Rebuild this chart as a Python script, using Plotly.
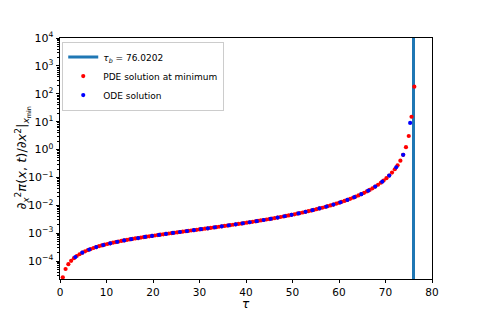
import plotly.graph_objects as go

tau_b = 76.0202

pde_tau = [0.6, 1.2, 1.8, 2.4, 3.0, 3.6, 4.2, 4.8, 5.4, 6.0, 6.6, 7.2, 7.8, 8.4, 9.0, 9.6,
           10.2, 10.8, 11.4, 12.0, 12.6, 13.2, 13.8, 14.4, 15.0, 15.6, 16.2, 16.8, 17.4, 18.0,
           18.6, 19.2, 19.8, 20.4, 21.0, 21.6, 22.2, 22.8, 23.4, 24.0, 24.6, 25.2, 25.8, 26.4,
           27.0, 27.6, 28.2, 28.8, 29.4, 30.0, 30.6, 31.2, 31.8, 32.4, 33.0, 33.6, 34.2, 34.8,
           35.4, 36.0, 36.6, 37.2, 37.8, 38.4, 39.0, 39.6, 40.2, 40.8, 41.4, 42.0, 42.6, 43.2,
           43.8, 44.4, 45.0, 45.6, 46.2, 46.8, 47.4, 48.0, 48.6, 49.2, 49.8, 50.4, 51.0, 51.6,
           52.2, 52.8, 53.4, 54.0, 54.6, 55.2, 55.8, 56.4, 57.0, 57.6, 58.2, 58.8, 59.4, 60.0,
           60.6, 61.2, 61.8, 62.4, 63.0, 63.6, 64.2, 64.8, 65.4, 66.0, 66.6, 67.2, 67.8, 68.4,
           69.0, 69.6, 70.2, 70.8, 71.4, 72.0, 72.6, 73.2, 73.8, 74.4, 75.0, 75.6, 76.2]
pde_val = [2.64e-5, 5.23e-5, 7.79e-5, 1.03e-4, 1.28e-4, 1.53e-4, 1.77e-4, 2.01e-4, 2.25e-4,
           2.49e-4, 2.72e-4, 2.96e-4, 3.19e-4, 3.43e-4, 3.66e-4, 3.89e-4, 4.12e-4, 4.35e-4,
           4.58e-4, 4.82e-4, 5.05e-4, 5.29e-4, 5.53e-4, 5.77e-4, 6.00e-4, 6.25e-4, 6.50e-4,
           6.74e-4, 7.00e-4, 7.26e-4, 7.51e-4, 7.78e-4, 8.05e-4, 8.32e-4, 8.60e-4, 8.88e-4,
           9.18e-4, 9.48e-4, 9.78e-4, 1.009e-3, 1.041e-3, 1.074e-3, 1.108e-3, 1.143e-3,
           1.178e-3, 1.215e-3, 1.253e-3, 1.292e-3, 1.332e-3, 1.374e-3, 1.417e-3, 1.462e-3,
           1.508e-3, 1.556e-3, 1.606e-3, 1.658e-3, 1.711e-3, 1.767e-3, 1.825e-3, 1.886e-3,
           1.949e-3, 2.015e-3, 2.084e-3, 2.156e-3, 2.232e-3, 2.311e-3, 2.394e-3, 2.481e-3,
           2.573e-3, 2.669e-3, 2.770e-3, 2.877e-3, 2.990e-3, 3.109e-3, 3.235e-3, 3.368e-3,
           3.510e-3, 3.660e-3, 3.819e-3, 3.988e-3, 4.169e-3, 4.362e-3, 4.568e-3, 4.788e-3,
           5.025e-3, 5.279e-3, 5.553e-3, 5.848e-3, 6.166e-3, 6.511e-3, 6.886e-3, 7.293e-3,
           7.738e-3, 8.223e-3, 8.752e-3, 9.337e-3, 9.984e-3, 1.069e-2, 1.149e-2, 1.237e-2,
           1.335e-2, 1.446e-2, 1.571e-2, 1.713e-2, 1.876e-2, 2.061e-2, 2.276e-2, 2.528e-2,
           2.822e-2, 3.171e-2, 3.588e-2, 4.095e-2, 4.715e-2, 5.487e-2, 6.467e-2, 7.734e-2,
           9.412e-2, 0.117, 0.1494, 0.1974, 0.2726, 0.401, 0.647, 1.215, 3.07, 15.0, 180.0]

ode_tau = [3.3, 4.8, 6.3, 7.8, 9.3, 10.8, 12.3, 13.8, 15.3, 16.8, 18.3, 19.8, 21.3, 22.8,
           24.3, 25.8, 27.3, 28.8, 30.3, 31.8, 33.3, 34.8, 36.3, 37.8, 39.3, 40.8, 42.3, 43.8,
           45.3, 46.8, 48.3, 49.8, 51.3, 52.8, 54.3, 55.8, 57.3, 58.8, 60.3, 61.8, 63.3, 64.8,
           66.3, 67.8, 69.3, 70.8, 72.3, 73.8, 75.3]
ode_val = [1.40e-4, 2.01e-4, 2.60e-4, 3.19e-4, 3.77e-4, 4.35e-4, 4.93e-4, 5.53e-4, 6.12e-4,
           6.74e-4, 7.38e-4, 8.05e-4, 8.74e-4, 9.48e-4, 1.025e-3, 1.108e-3, 1.196e-3, 1.292e-3,
           1.395e-3, 1.508e-3, 1.632e-3, 1.767e-3, 1.917e-3, 2.084e-3, 2.271e-3, 2.481e-3,
           2.719e-3, 2.990e-3, 3.301e-3, 3.660e-3, 4.077e-3, 4.568e-3, 5.150e-3, 5.848e-3,
           6.696e-3, 7.738e-3, 9.040e-3, 1.069e-2, 1.285e-2, 1.571e-2, 1.966e-2, 2.528e-2,
           3.37e-2, 4.715e-2, 7.06e-2, 0.117, 0.2304, 0.647, 9.0]

x_range = [0, 80]
x_ticks = [0, 10, 20, 30, 40, 50, 60, 70, 80]
y_log_range = [-4.64, 4]
y_tick_exps = [-4, -3, -2, -1, 0, 1, 2, 3, 4]
y_tick_text = ["10<sup>" + (("\u2212" + str(-e)) if e < 0 else str(e)) + "</sup>" for e in y_tick_exps]

FONT = "DejaVu Sans"

fig = go.Figure()
fig.add_trace(go.Scatter(
    x=[tau_b, tau_b], y=[10 ** y_log_range[0], 10 ** y_log_range[1]],
    mode="lines", line=dict(color="#1f77b4", width=3),
    name="<i>τ</i><sub><i>b</i></sub> = 76.0202"))
fig.add_trace(go.Scatter(
    x=pde_tau, y=pde_val, mode="markers",
    marker=dict(color="red", size=4.2, line=dict(width=0)),
    name="PDE solution at minimum"))
fig.add_trace(go.Scatter(
    x=ode_tau, y=ode_val, mode="markers",
    marker=dict(color="blue", size=4.2, line=dict(width=0)),
    name="ODE solution"))

# page body has an 8px offset; figure is sized to fill the rest of the window
fig.update_layout(
    width=472, height=312,
    margin=dict(l=52, r=48, t=30, b=41, autoexpand=False),
    paper_bgcolor="white", plot_bgcolor="white",
    font=dict(family=FONT, size=11, color="black"),
    showlegend=True,
    legend=dict(
        x=0.006, y=0.985, xanchor="left", yanchor="top",
        bgcolor="rgba(255,255,255,0.8)", bordercolor="#cccccc", borderwidth=1,
        font=dict(family=FONT, size=9, color="black"),
        tracegroupgap=0, itemwidth=30,
    ),
    xaxis=dict(
        range=x_range, tickmode="array", tickvals=x_ticks,
        ticks="outside", ticklen=3, tickwidth=1, tickcolor="black",
        showline=True, linecolor="black", linewidth=1, mirror=True,
        showgrid=False, zeroline=False, automargin=False,
        tickfont=dict(family=FONT, size=10.5),
    ),
    yaxis=dict(
        type="log", range=y_log_range,
        tickmode="array", tickvals=[10 ** e for e in y_tick_exps], ticktext=y_tick_text,
        ticks="outside", ticklen=3.5, tickwidth=1, tickcolor="black",
        minor=dict(ticks="outside", ticklen=2, tickcolor="black", dtick="D1", showgrid=False),
        showline=True, linecolor="black", linewidth=1, mirror=True,
        showgrid=False, zeroline=False, automargin=False,
        tickfont=dict(family=FONT, size=11),
    ),
    annotations=[
        dict(text="<i>τ</i>", xref="paper", yref="paper", x=0.5, y=-0.105,
             xanchor="center", yanchor="middle", showarrow=False,
             font=dict(family=FONT, size=12)),
        dict(text="∂<sub><i>x</i></sub><sup>2</sup><i>π</i>(<i>x</i>, <i>t</i>)/∂<i>x</i><sup>2</sup>|<sub><i>x</i><sub>min</sub></sub>",
             xref="paper", yref="paper", x=-0.102, y=0.5, textangle=-90,
             xanchor="center", yanchor="middle", showarrow=False,
             font=dict(family=FONT, size=13)),
    ],
)

fig.write_html("out.html")
